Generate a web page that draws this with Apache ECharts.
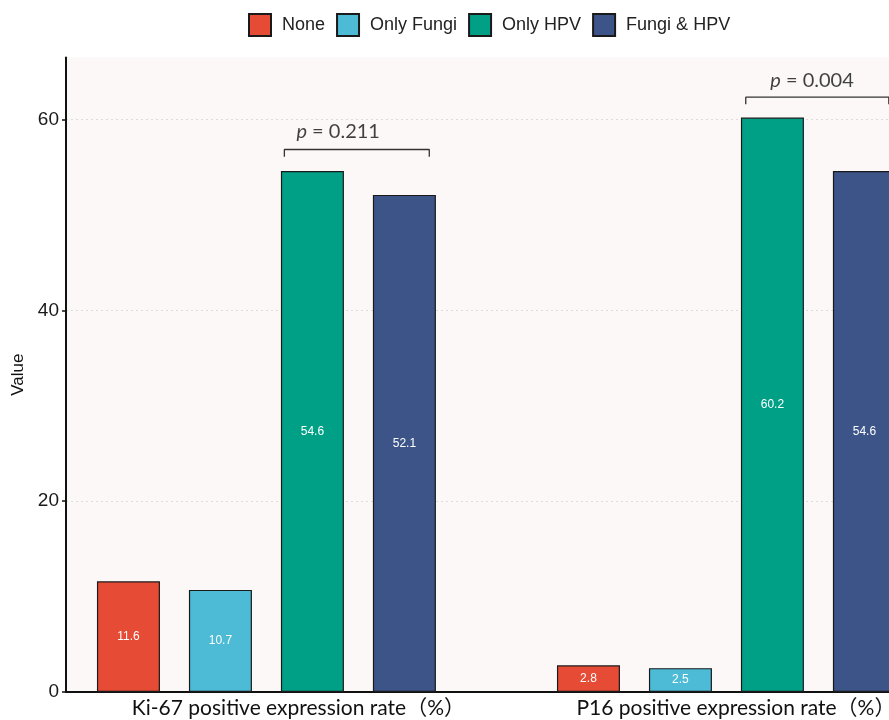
<!DOCTYPE html>
<html>
<head>
<meta charset="utf-8">
<script src="https://cdn.jsdelivr.net/npm/echarts@6/dist/echarts.min.js"></script>
<style>html,body{margin:0;padding:0;background:#fff}#chart{width:889px;height:720px}</style>
</head>
<body>
<div id="chart"></div>
<script>
// ---- data ----
const categories = ['Ki-67 positive expression rate（%）', 'P16 positive expression rate（%）'];
const categoryPos = [1, 2];
const groups = ['None', 'Only Fungi', 'Only HPV', 'Fungi & HPV'];
const noneVals = [11.6, 2.8];
const onlyFungiVals = [10.7, 2.5];
const onlyHpvVals = [54.6, 60.2];
const fungiHpvVals = [52.1, 54.6];
const yTicks = [0, 20, 40, 60];
// significance brackets (data coordinates)
const bracketFrom = [1.039, 2.042];
const bracketTo = [1.354, 2.353];
const bracketY = [56.86, 62.34];
const bracketDrop = 0.75;
const pValues = ['0.211', '0.004'];
const pTextX = [1.156, 2.186];
const pTextY = [58.77, 64.04];

const colors = ['#E64B35', '#4DBBD5', '#00A087', '#3C5488'];
const seriesVals = [noneVals, onlyFungiVals, onlyHpvVals, fungiHpvVals];

const chart = echarts.init(document.getElementById('chart'), null, {renderer: 'canvas'});

const barSeries = groups.map((g, i) => ({
  name: g,
  type: 'bar',
  barWidth: 63,
  barGap: '46%',
  clip: false,
  data: categoryPos.map((x, k) => [x, seriesVals[i][k]]),
  itemStyle: {color: colors[i], borderColor: '#1a1a1a', borderWidth: 1.2},
  label: {
    show: true, position: 'inside', color: '#fff', fontSize: 12,
    fontFamily: 'Liberation Sans, Arial, sans-serif',
    formatter: p => p.value[1].toFixed(1)
  },
  emphasis: {disabled: true}
}));

const bracketSeries = bracketFrom.map((f, i) => ({
  type: 'line',
  silent: true,
  symbol: 'none',
  clip: false,
  z: 5,
  lineStyle: {color: '#333', width: 1.3},
  data: [
    [f, bracketY[i] - bracketDrop],
    [f, bracketY[i]],
    [bracketTo[i], bracketY[i]],
    [bracketTo[i], bracketY[i] - bracketDrop]
  ]
}));

const pSeries = {
  type: 'scatter',
  silent: true,
  symbolSize: 0,
  clip: false,
  z: 6,
  data: pValues.map((v, i) => ({value: [pTextX[i], pTextY[i]], pv: v})),
  label: {
    show: true,
    position: 'inside',
    formatter: p => '{i|p} = ' + p.data.pv,
    color: '#111',
    fontSize: 20,
    fontFamily: 'Lato, sans-serif',
    rich: {i: {fontStyle: 'italic', fontSize: 20, fontFamily: 'Lato, sans-serif', color: '#111'}}
  }
};

const option = {
  animation: false,
  backgroundColor: '#fff',
  legend: {
    data: groups,
    left: 243,
    top: 8,
    icon: 'rect',
    itemWidth: 22,
    itemHeight: 22,
    itemGap: 11,
    textStyle: {fontSize: 18, color: '#222', fontFamily: 'Liberation Sans, Arial, sans-serif', padding: [0, 0, 0, 6]}
  },
  grid: {
    left: 66, top: 57.5, right: 0, bottom: 28,
    outerBoundsMode: 'none',
    show: true, backgroundColor: '#FCF8F7', borderWidth: 0
  },
  xAxis: {
    type: 'value',
    min: 0.5643,
    max: 2.3534,
    axisLine: {show: true, onZero: false, lineStyle: {color: '#111', width: 2}},
    axisTick: {show: false},
    splitLine: {show: false},
    axisLabel: {
      customValues: categoryPos,
      margin: 6,
      fontSize: 21,
      fontFamily: 'Lato, Noto Sans CJK SC, sans-serif',
      color: '#111',
      formatter: v => {
        const k = categoryPos.indexOf(v);
        return k === 0 ? '{a|' + categories[0] + '}' : '{b|' + categories[1] + '}';
      },
      rich: {
        a: {fontSize: 21, fontFamily: 'Lato, Noto Sans CJK SC, sans-serif', color: '#111', padding: [0, 0, 0, 64]},
        b: {fontSize: 21, fontFamily: 'Lato, Noto Sans CJK SC, sans-serif', color: '#111', padding: [0, 0, 0, 19]}
      }
    }
  },
  yAxis: {
    type: 'value',
    min: 0,
    max: 66.5,
    interval: 20,
    name: 'Value',
    nameLocation: 'middle',
    nameGap: 33,
    nameTextStyle: {fontSize: 17, color: '#111', fontFamily: 'Liberation Sans, Arial, sans-serif'},
    axisLine: {show: true, onZero: false, lineStyle: {color: '#111', width: 2}},
    axisTick: {show: true, length: 4, customValues: yTicks, lineStyle: {color: '#111', width: 1.5}},
    axisLabel: {customValues: yTicks, fontSize: 19, color: '#1a1a1a', margin: 7, fontFamily: 'Liberation Sans, Arial, sans-serif'},
    splitLine: {show: true, lineStyle: {color: '#dcdcdc', type: [2, 3], width: 1}}
  },
  series: [...barSeries, ...bracketSeries, pSeries]
};
chart.setOption(option);
</script>
</body>
</html>
